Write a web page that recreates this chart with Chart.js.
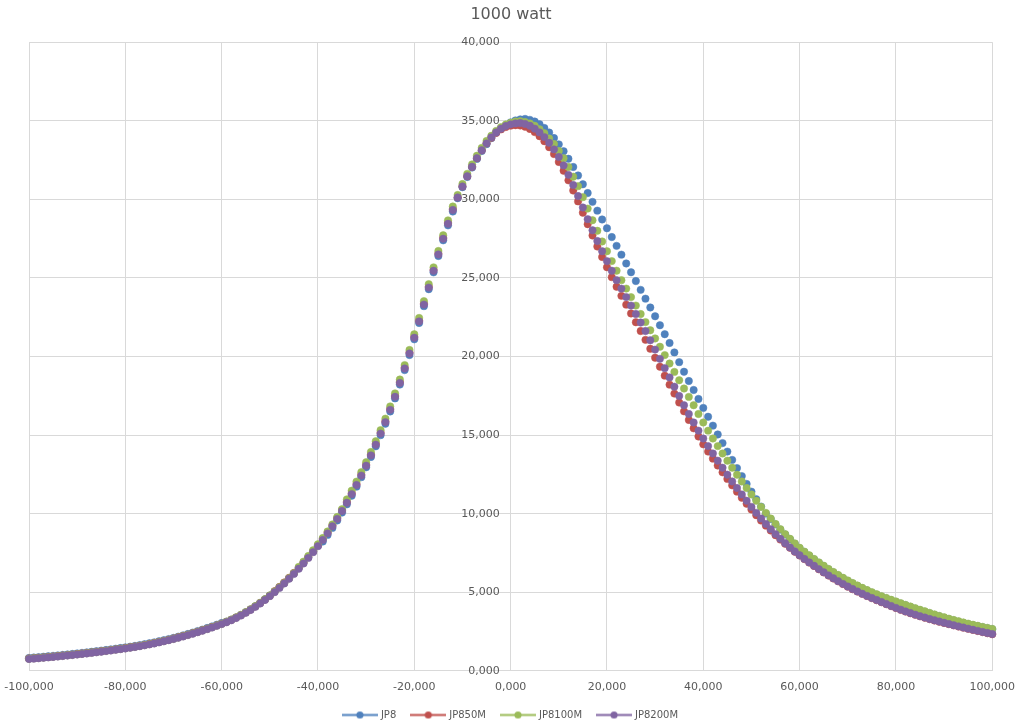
<!DOCTYPE html>
<html>
<head>
<meta charset="utf-8">
<title>1000 watt</title>
<script src="https://cdn.jsdelivr.net/npm/chart.js@4.4.1/dist/chart.umd.min.js"></script>
<style>
  html, body { margin: 0; padding: 0; background: #ffffff; }
  #wrap { width: 1015px; height: 728px; position: relative; }
</style>
</head>
<body>
<div id="wrap"><canvas id="chart"></canvas></div>
<script>
// sample positions (x, in thousands)
const xKilo = [
  -100, -99, -98, -97, -96, -95, -94, -93, -92, -91, -90, -89, -88, -87, -86, -85, -84, -83, -82, -81,
  -80, -79, -78, -77, -76, -75, -74, -73, -72, -71, -70, -69, -68, -67, -66, -65, -64, -63, -62, -61,
  -60, -59, -58, -57, -56, -55, -54, -53, -52, -51, -50, -49, -48, -47, -46, -45, -44, -43, -42, -41,
  -40, -39, -38, -37, -36, -35, -34, -33, -32, -31, -30, -29, -28, -27, -26, -25, -24, -23, -22, -21,
  -20, -19, -18, -17, -16, -15, -14, -13, -12, -11, -10, -9, -8, -7, -6, -5, -4, -3, -2, -1,
  0, 1, 2, 3, 4, 5, 6, 7, 8, 9, 10, 11, 12, 13, 14, 15, 16, 17, 18, 19,
  20, 21, 22, 23, 24, 25, 26, 27, 28, 29, 30, 31, 32, 33, 34, 35, 36, 37, 38, 39,
  40, 41, 42, 43, 44, 45, 46, 47, 48, 49, 50, 51, 52, 53, 54, 55, 56, 57, 58, 59,
  60, 61, 62, 63, 64, 65, 66, 67, 68, 69, 70, 71, 72, 73, 74, 75, 76, 77, 78, 79,
  80, 81, 82, 83, 84, 85, 86, 87, 88, 89, 90, 91, 92, 93, 94, 95, 96, 97, 98, 99, 100
];

const jp8 = [
  820, 844, 869, 895, 922, 950, 979, 1009, 1040, 1072, 1105, 1139, 1174, 1210, 1247, 1285, 1324, 1364, 1405, 1447,
  1490, 1535, 1583, 1635, 1690, 1749, 1811, 1877, 1946, 2018, 2094, 2173, 2256, 2342, 2432, 2525, 2621, 2721, 2824, 2931,
  3041, 3126, 3255, 3398, 3555, 3726, 3911, 4110, 4323, 4550, 4791, 5046, 5315, 5598, 5895, 6206, 6531, 6870, 7223, 7590,
  7971, 8226, 8647, 9094, 9567, 10066, 10591, 11142, 11719, 12322, 12951, 13606, 14287, 14994, 15724, 16504, 17334, 18214, 19134, 20094,
  21094, 22134, 23204, 24284, 25354, 26394, 27394, 28344, 29224, 30074, 30774, 31424, 32024, 32574, 33074, 33514, 33894, 34254, 34494, 34664,
  34900, 35020, 35090, 35120, 35060, 34950, 34780, 34540, 34250, 33900, 33500, 33060, 32580, 32060, 31520, 30960, 30400, 29840, 29280, 28720,
  28160, 27600, 27040, 26480, 25920, 25360, 24800, 24240, 23680, 23120, 22560, 21990, 21420, 20860, 20260, 19640, 19030, 18440, 17870, 17300,
  16730, 16165, 15600, 15040, 14490, 13950, 13420, 12900, 12390, 11890, 11400, 10920, 10450, 10000, 9660, 9315, 8985, 8670, 8370, 8080,
  7800, 7555, 7319, 7091, 6871, 6659, 6455, 6259, 6071, 5891, 5719, 5555, 5399, 5250, 5108, 4973, 4844, 4721, 4604, 4492,
  4385, 4275, 4167, 4061, 3957, 3855, 3755, 3657, 3561, 3467, 3375, 3287, 3203, 3123, 3046, 2972, 2901, 2833, 2767, 2703, 2641
];

const jp850m = [
  780, 804, 829, 855, 882, 910, 939, 969, 1000, 1032, 1065, 1099, 1134, 1170, 1207, 1245, 1284, 1324, 1365, 1407,
  1450, 1495, 1543, 1595, 1650, 1709, 1771, 1837, 1906, 1978, 2054, 2133, 2216, 2302, 2392, 2485, 2581, 2681, 2784, 2891,
  3001, 3116, 3245, 3388, 3545, 3716, 3901, 4100, 4313, 4540, 4781, 5066, 5335, 5618, 5915, 6226, 6551, 6890, 7243, 7610,
  7991, 8386, 8807, 9254, 9727, 10226, 10751, 11302, 11879, 12482, 13111, 13766, 14447, 15154, 15884, 16664, 17494, 18374, 19294, 20254,
  21254, 22294, 23364, 24444, 25514, 26554, 27554, 28504, 29384, 30124, 30824, 31474, 32074, 32624, 33124, 33564, 33920, 34230, 34450, 34600,
  34690, 34720, 34700, 34620, 34480, 34280, 34020, 33700, 33320, 32880, 32380, 31820, 31210, 30560, 29870, 29150, 28420, 27700, 27000, 26330,
  25680, 25050, 24440, 23860, 23300, 22740, 22180, 21620, 21060, 20490, 19920, 19350, 18780, 18210, 17640, 17070, 16510, 15960, 15430, 14910,
  14410, 13950, 13500, 13060, 12630, 12210, 11800, 11400, 11010, 10630, 10260, 9900, 9560, 9235, 8925, 8630, 8350, 8085, 7830, 7580,
  7340, 7110, 6887, 6671, 6462, 6260, 6065, 5877, 5696, 5522, 5355, 5195, 5042, 4896, 4757, 4625, 4495, 4367, 4241, 4117,
  3995, 3880, 3770, 3665, 3565, 3469, 3377, 3289, 3205, 3124, 3046, 2968, 2892, 2818, 2745, 2673, 2602, 2532, 2463, 2395, 2328
];

const jp8100m = [
  770, 794, 819, 845, 872, 900, 929, 959, 990, 1022, 1055, 1089, 1124, 1160, 1197, 1235, 1274, 1314, 1355, 1397,
  1440, 1485, 1533, 1585, 1640, 1699, 1761, 1827, 1896, 1968, 2044, 2123, 2206, 2292, 2382, 2475, 2571, 2671, 2774, 2881,
  2991, 3126, 3255, 3398, 3555, 3726, 3911, 4110, 4323, 4550, 4791, 5046, 5315, 5598, 5895, 6206, 6611, 6950, 7303, 7670,
  8051, 8446, 8867, 9314, 9787, 10286, 10911, 11462, 12039, 12642, 13271, 13926, 14607, 15314, 16044, 16824, 17654, 18534, 19454, 20414,
  21414, 22454, 23524, 24604, 25674, 26714, 27714, 28664, 29544, 30274, 30974, 31624, 32224, 32774, 33274, 33714, 34044, 34354, 34594, 34764,
  34870, 34950, 34980, 34920, 34830, 34680, 34460, 34210, 33880, 33520, 33080, 32620, 32060, 31440, 30840, 30140, 29410, 28670, 28000, 27320,
  26700, 26070, 25460, 24860, 24320, 23780, 23240, 22700, 22190, 21670, 21150, 20620, 20090, 19555, 19020, 18490, 17960, 17430, 16900, 16340,
  15800, 15280, 14780, 14300, 13830, 13370, 12920, 12480, 12050, 11630, 11220, 10820, 10430, 10050, 9690, 9345, 9015, 8700, 8400, 8110,
  7830, 7585, 7349, 7121, 6901, 6689, 6485, 6289, 6101, 5921, 5749, 5585, 5429, 5280, 5138, 5003, 4874, 4751, 4634, 4522,
  4415, 4305, 4197, 4091, 3987, 3885, 3785, 3687, 3591, 3497, 3405, 3317, 3233, 3153, 3076, 3002, 2931, 2863, 2797, 2733, 2671
];

const jp8200m = [
  750, 774, 799, 825, 852, 880, 909, 939, 970, 1002, 1035, 1069, 1104, 1140, 1177, 1215, 1254, 1294, 1335, 1377,
  1420, 1465, 1513, 1565, 1620, 1679, 1741, 1807, 1876, 1948, 2024, 2103, 2186, 2272, 2362, 2455, 2551, 2651, 2754, 2861,
  2971, 3086, 3215, 3358, 3515, 3686, 3871, 4070, 4283, 4510, 4751, 5006, 5275, 5558, 5855, 6166, 6491, 6830, 7183, 7550,
  7931, 8326, 8747, 9194, 9667, 10166, 10691, 11242, 11819, 12422, 13051, 13706, 14387, 15094, 15824, 16604, 17434, 18314, 19234, 20194,
  21194, 22234, 23304, 24384, 25454, 26494, 27494, 28444, 29324, 30124, 30824, 31474, 32074, 32624, 33124, 33564, 33944, 34254, 34494, 34664,
  34774, 34834, 34860, 34800, 34680, 34500, 34260, 33960, 33600, 33180, 32700, 32160, 31560, 30910, 30210, 29480, 28740, 28030, 27350, 26700,
  26070, 25460, 24860, 24320, 23780, 23240, 22700, 22160, 21620, 21030, 20440, 19850, 19260, 18670, 18080, 17490, 16900, 16340, 15800, 15280,
  14780, 14300, 13830, 13370, 12920, 12480, 12050, 11630, 11220, 10820, 10430, 10050, 9690, 9345, 9015, 8700, 8400, 8115, 7845, 7590,
  7350, 7120, 6897, 6681, 6472, 6270, 6075, 5887, 5706, 5532, 5365, 5205, 5052, 4906, 4767, 4635, 4505, 4377, 4251, 4127,
  4005, 3890, 3780, 3675, 3575, 3479, 3387, 3299, 3215, 3134, 3056, 2978, 2902, 2828, 2755, 2683, 2612, 2542, 2473, 2405, 2338
];

const seriesNames = ['JP8', 'JP850M', 'JP8100M', 'JP8200M'];
const seriesColors = ['#4F81BD', '#C0504D', '#9BBB59', '#8064A2'];
const xTickLabels = ['-100,000', '-80,000', '-60,000', '-40,000', '-20,000', '0,000',
  '20,000', '40,000', '60,000', '80,000', '100,000'];
const yTickLabels = ['0,000', '5,000', '10,000', '15,000', '20,000', '25,000',
  '30,000', '35,000', '40,000'];

const textColor = '#595959';
const gridColor = '#d9d9d9';
const tickFont = { family: 'DejaVu Sans', size: 11 };

// legend marker: short line with a dot in the middle (a bit wider than its box)
function legendMarker(color) {
  const c = document.createElement('canvas');
  c.width = 36;
  c.height = 9;
  const g = c.getContext('2d');
  g.strokeStyle = color;
  g.lineWidth = 2;
  g.beginPath();
  g.moveTo(0, 4.5);
  g.lineTo(36, 4.5);
  g.stroke();
  g.fillStyle = color;
  g.beginPath();
  g.arc(18, 4.5, 3.6, 0, Math.PI * 2);
  g.fill();
  return c;
}
const markers = seriesColors.map(legendMarker);

// y labels of the centred axis, a bit left of the axis line (Chart.js puts them on it)
const centreAxisLabels = {
  id: 'centreAxisLabels',
  beforeDatasetsDraw(chart) {
    const { ctx, scales: { x, y } } = chart;
    const x0 = x.getPixelForValue(0);
    ctx.save();
    ctx.font = '11px "DejaVu Sans"';
    ctx.fillStyle = textColor;
    ctx.textAlign = 'right';
    ctx.textBaseline = 'middle';
    y.ticks.forEach((t, i) => {
      ctx.fillText(yTickLabels[i], x0 - 11, y.getPixelForValue(t.value));
    });
    ctx.restore();
  }
};

const allSeries = [jp8, jp850m, jp8100m, jp8200m];
const datasets = allSeries.map((vals, s) => ({
  label: seriesNames[s],
  data: xKilo.map((k, i) => ({ x: k * 1000, y: vals[i] })),
  backgroundColor: seriesColors[s],
  borderColor: seriesColors[s],
  pointRadius: 3.7,
  pointBorderWidth: 0.5,
  showLine: false,
  clip: false,
  order: 3 - s   // last series on top, like the original
}));

new Chart(document.getElementById('chart'), {
  type: 'scatter',
  data: { datasets },
  plugins: [centreAxisLabels],
  options: {
    responsive: true,
    maintainAspectRatio: false,
    animation: false,
    layout: { padding: { left: 29, right: 22, top: 0, bottom: -2 } },
    plugins: {
      title: {
        display: true,
        text: '1000 watt',
        color: textColor,
        font: { family: 'DejaVu Sans', size: 16, weight: 'normal' },
        padding: { top: 5, bottom: 18 }
      },
      legend: {
        position: 'bottom',
        labels: {
          usePointStyle: true,
          pointStyleWidth: 32,
          color: textColor,
          font: { family: 'DejaVu Sans', size: 10 },
          padding: 16,
          sort: (a, b) => a.datasetIndex - b.datasetIndex,
          generateLabels(chart) {
            const items = Chart.defaults.plugins.legend.labels.generateLabels(chart);
            items.forEach(it => { it.pointStyle = markers[it.datasetIndex]; });
            return items;
          }
        }
      },
      tooltip: { enabled: false }
    },
    scales: {
      x: {
        type: 'linear',
        min: -100000,
        max: 100000,
        ticks: {
          stepSize: 20000,
          maxRotation: 0,
          color: textColor,
          font: tickFont,
          padding: 0,
          callback: (v, i) => xTickLabels[i]
        },
        grid: { color: gridColor, drawTicks: true, tickLength: 10, tickColor: 'rgba(0,0,0,0)' },
        border: { color: gridColor }
      },
      y: {
        type: 'linear',
        min: 0,
        max: 40000,
        position: { x: 0 },
        ticks: {
          stepSize: 5000,
          display: false
        },
        grid: { color: gridColor, drawTicks: false },
        border: { color: gridColor }
      }
    }
  }
});
</script>
</body>
</html>
